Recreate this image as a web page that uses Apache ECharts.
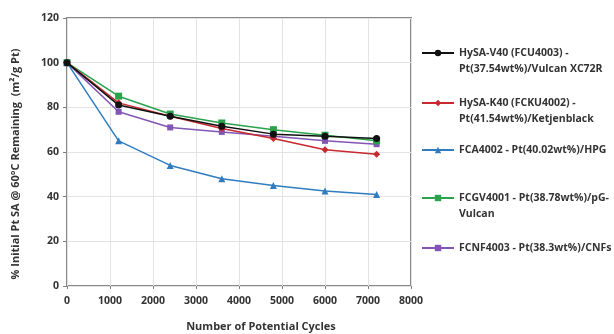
<!DOCTYPE html>
<html>
<head>
<meta charset="utf-8">
<script src="https://cdn.jsdelivr.net/npm/echarts@6/dist/echarts.min.js"></script>
<style>
  body { margin: 0; background: #fff; }
  #chart { width: 614px; height: 334px; }
</style>
</head>
<body>
<div id="chart"></div>
<script>
  // 数据
  var cycles = [0, 1200, 2400, 3600, 4800, 6000, 7200];
  var hysaV40 = [100, 81, 76, 71.5, 68, 67, 66];
  var hysaK40 = [100, 82, 76, 70.5, 66, 61, 59];
  var fca4002 = [100, 65, 54, 48, 45, 42.5, 41];
  var fcgv4001 = [100, 85, 77, 73, 70, 67.5, 65];
  var fcnf4003 = [100, 78, 71, 69, 67, 65, 63.5];
  var xTicks = [0, 1000, 2000, 3000, 4000, 5000, 6000, 7000, 8000];
  var yTicks = [0, 20, 40, 60, 80, 100, 120];

  var names = [
    'HySA-V40 (FCU4003) -\nPt(37.54wt%)/Vulcan XC72R',
    'HySA-K40 (FCKU4002) -\nPt(41.54wt%)/Ketjenblack',
    'FCA4002 - Pt(40.02wt%)/HPG',
    'FCGV4001 - Pt(38.78wt%)/pG-\nVulcan',
    'FCNF4003 - Pt(38.3wt%)/CNFs'
  ];
  var values = [hysaV40, hysaK40, fca4002, fcgv4001, fcnf4003];
  var colors = ['#111111', '#c8282e', '#2f7cc0', '#2ba24c', '#8355b5'];
  var symbols = ['circle', 'diamond', 'triangle', 'rect', 'rect'];
  var sizes = [7, 7, 7, 7, 6];
  var legendTops = [29, 79, 142, 174, 240];

  function pairs(ys) {
    return ys.map(function (v, i) { return [cycles[i], v]; });
  }

  var font = 'Open Sans';
  var series = [];
  var legends = [];
  for (var i = 0; i < names.length; i++) {
    series.push({
      name: names[i],
      type: 'line',
      data: pairs(values[i]),
      symbol: symbols[i],
      symbolSize: sizes[i],
      color: colors[i],
      lineStyle: { width: 1.5 },
      z: 10 - i
    });
    legends.push({
      data: [names[i]],
      left: 421,
      top: legendTops[i],
      padding: 0,
      itemWidth: 32,
      itemHeight: 8,
      itemGap: 0,
      // 空行让图标对齐第一行
      formatter: function (name) {
        return name.indexOf('\n') >= 0 ? ' \n' + name : name;
      },
      textStyle: {
        fontFamily: font,
        fontSize: 10.5,
        fontWeight: 'bold',
        color: '#333',
        lineHeight: 16
      }
    });
  }

  var myChart = echarts.init(document.getElementById('chart'));
  myChart.setOption({
    animation: false,
    legend: legends,
    grid: {
      left: 67, top: 18, right: 203, bottom: 48,
      show: true, borderColor: '#888888', borderWidth: 2,
      containLabel: false,
      outerBoundsMode: 'none'
    },
    xAxis: {
      type: 'value',
      min: xTicks[0], max: xTicks[xTicks.length - 1], interval: 1000,
      name: 'Number of Potential Cycles',
      nameLocation: 'middle',
      nameGap: 35,
      nameTextStyle: { fontFamily: font, fontSize: 11, fontWeight: 'bold', color: '#333', padding: [0, 0, 0, 44] },
      axisLine: { show: false },
      axisTick: { show: true, length: 3, lineStyle: { color: '#808080' } },
      axisLabel: {
        fontFamily: font, fontSize: 10.5, fontWeight: 'bold', color: '#333', margin: 10,
        formatter: function (v) { return String(v); }
      },
      splitLine: { show: true, lineStyle: { color: '#e3e3e3', width: 1 } }
    },
    yAxis: {
      type: 'value',
      min: yTicks[0], max: yTicks[yTicks.length - 1], interval: 20,
      name: '% Initial Pt SA @ 60°C Remaining  (m²/g Pt)',
      nameLocation: 'middle',
      nameGap: 46,
      nameTextStyle: { fontFamily: font, fontSize: 11, fontWeight: 'bold', color: '#333', padding: [0, 24, 0, 0] },
      axisLine: { show: false },
      axisTick: { show: true, length: 4, lineStyle: { color: '#808080' } },
      axisLabel: { fontFamily: font, fontSize: 10.5, fontWeight: 'bold', color: '#333', margin: 8 },
      splitLine: { show: true, lineStyle: { color: '#e3e3e3', width: 1 } }
    },
    series: series
  });
</script>
</body>
</html>
